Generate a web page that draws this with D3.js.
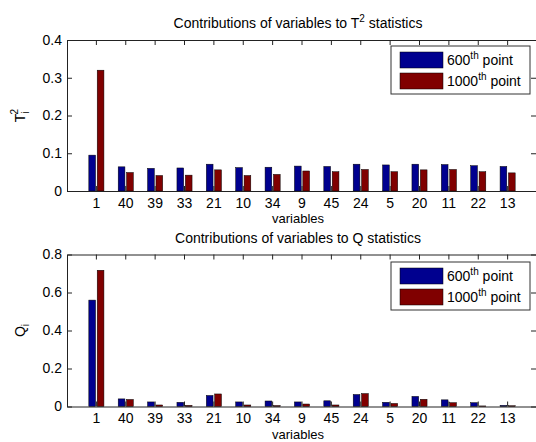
<!DOCTYPE html>
<meta charset="utf-8">
<style>
  body { margin: 0; background: white; }
  text { font-family: "Liberation Sans", Arial, sans-serif; fill: #000; }
  .tick text { font-size: 14px; }
</style>
<script src="https://cdn.jsdelivr.net/npm/d3@7"></script>
<body>
<script>

  var w = 536, h = 442;

  // data
  var categories = ["1", "40", "39", "33", "21", "10", "34", "9", "45", "24", "5", "20", "11", "22", "13"];
  var seriesNames = ["600", "1000"];
  var t2_600  = [0.095, 0.064, 0.060, 0.061, 0.071, 0.062, 0.063, 0.066, 0.065, 0.071, 0.069, 0.071, 0.070, 0.067, 0.065];
  var t2_1000 = [0.320, 0.049, 0.041, 0.042, 0.056, 0.041, 0.044, 0.053, 0.051, 0.057, 0.051, 0.056, 0.057, 0.051, 0.048];
  var q_600   = [0.560, 0.040, 0.024, 0.022, 0.058, 0.024, 0.029, 0.024, 0.030, 0.063, 0.022, 0.053, 0.035, 0.020, 0.006];
  var q_1000  = [0.717, 0.037, 0.008, 0.006, 0.066, 0.008, 0.005, 0.013, 0.008, 0.068, 0.016, 0.038, 0.020, 0.003, 0.004];
  var t2Ticks = [0, 0.1, 0.2, 0.3, 0.4];
  var qTicks  = [0, 0.2, 0.4, 0.6, 0.8];

  var colors = ["#00008f", "#800000"];

  var svg = d3.select("body").append("svg")
              .attr("width", w)
              .attr("height", h);

  var left = 67, right = 537;

  var x = d3.scaleBand()
            .domain(categories)
            .range([left, right])
            .paddingInner(0)
            .paddingOuter(0.5);
  var step = x.step();
  var x1 = d3.scaleBand()
             .domain(seriesNames)
             .range([-0.257 * step, 0.257 * step])
             .paddingInner(0.2);

  function center(c) { return x(c) + x.bandwidth() / 2; }

  function drawPanel(opt) {
    var g = svg.append("g");
    var y = d3.scaleLinear().domain([0, opt.ymax]).range([opt.bottom, opt.top]);

    // bars
    var rows = categories.map(function (c, i) {
      return { cat: c, vals: [opt.a[i], opt.b[i]] };
    });
    var groups = g.selectAll("g.grp")
                  .data(rows)
                  .enter().append("g")
                  .attr("class", "grp")
                  .attr("transform", function (d) { return "translate(" + center(d.cat) + ",0)"; });
    groups.selectAll("rect")
          .data(function (d) { return d.vals.map(function (v, k) { return { k: k, v: v }; }); })
          .enter().append("rect")
          .attr("x", function (d) { return x1(seriesNames[d.k]); })
          .attr("width", x1.bandwidth())
          .attr("y", function (d) { return y(d.v); })
          .attr("height", function (d) { return y(0) - y(d.v); })
          .attr("fill", function (d) { return colors[d.k]; })
          .attr("stroke", "#000")
          .attr("stroke-width", 0.5);

    // axes, ticks pointing inward
    var fmt = function (d) { return d === 0 ? "0" : d3.format(".1f")(d); };
    g.append("g")
     .attr("transform", "translate(" + left + ",0)")
     .call(d3.axisLeft(y).tickValues(opt.ticks).tickFormat(fmt).tickSizeInner(-5).tickSizeOuter(0).tickPadding(5));
    g.append("g")
     .attr("transform", "translate(" + right + ",0)")
     .call(d3.axisRight(y).tickValues(opt.ticks).tickFormat("").tickSizeInner(-6).tickSizeOuter(0));
    g.append("g")
     .attr("transform", "translate(0," + opt.bottom + ")")
     .call(d3.axisBottom(x).tickSizeInner(-5).tickSizeOuter(0).tickPadding(7));
    g.append("g")
     .attr("transform", "translate(0," + opt.top + ")")
     .call(d3.axisTop(x).tickFormat("").tickSizeInner(-5).tickSizeOuter(0));
    g.selectAll(".domain").attr("stroke", "#222");
    g.selectAll(".tick line").attr("stroke", "#222");
    g.selectAll(".tick text").attr("fill", "#000");

    // title
    var t = g.append("text")
             .attr("x", 298)
             .attr("y", opt.top - 12)
             .attr("text-anchor", "middle")
             .style("font-size", "14px");
    t.append("tspan").text(opt.title[0]);
    if (opt.title[1]) {
      t.append("tspan").attr("dy", -6).style("font-size", "10px").text(opt.title[1]);
      t.append("tspan").attr("dy", 6).text(opt.title[2]);
    }

    // x label
    g.append("text")
     .attr("x", 298)
     .attr("y", opt.bottom + 32)
     .attr("text-anchor", "middle")
     .style("font-size", "13px")
     .text("variables");

    // y label
    var yl = g.append("text")
              .attr("transform", "translate(25," + (opt.top + opt.bottom) / 2 + ") rotate(-90)")
              .attr("text-anchor", "middle")
              .style("font-size", "14px");
    yl.append("tspan").text(opt.ylabel);
    yl.append("tspan").attr("dy", 4).style("font-size", "10px").text("i");
    if (opt.ysup) {
      yl.append("tspan").attr("dx", -3).attr("dy", -11).style("font-size", "10px").text(opt.ysup);
    }

    // legend
    var lg = g.append("g").attr("transform", "translate(391," + opt.legTop + ")");
    lg.append("rect")
      .attr("width", 139).attr("height", 48)
      .attr("fill", "white").attr("stroke", "#333").attr("stroke-width", 1);
    seriesNames.forEach(function (s, k) {
      lg.append("rect")
        .attr("x", 9).attr("y", 6 + k * 21)
        .attr("width", 43).attr("height", 16)
        .attr("fill", colors[k]).attr("stroke", "#000").attr("stroke-width", 0.5);
      var lt = lg.append("text")
                 .attr("x", 56).attr("y", 19 + k * 21)
                 .style("font-size", "14px");
      lt.append("tspan").text(s);
      lt.append("tspan").attr("dy", -6).style("font-size", "10px").text("th");
      lt.append("tspan").attr("dy", 6).text(" point");
    });
  }

  drawPanel({ top: 40, bottom: 191, ymax: 0.4, ticks: t2Ticks, a: t2_600, b: t2_1000,
              title: ["Contributions of variables to T", "2", " statistics"],
              ylabel: "T", ysup: "2", legTop: 46 });
  drawPanel({ top: 254.5, bottom: 406.5, ymax: 0.8, ticks: qTicks, a: q_600, b: q_1000,
              title: ["Contributions of variables to Q statistics"],
              ylabel: "Q", ysup: null, legTop: 262 });

</script>
</body>
